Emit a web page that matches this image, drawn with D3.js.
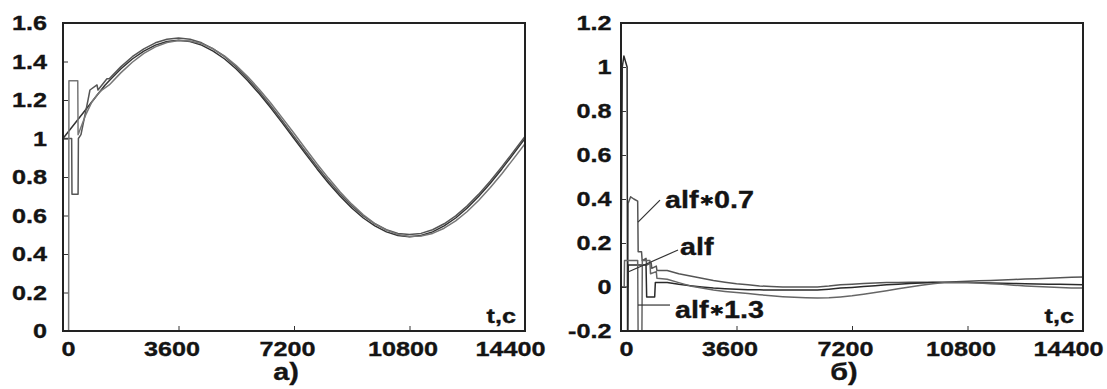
<!DOCTYPE html>
<html>
<head>
<meta charset="utf-8">
<script src="https://cdn.jsdelivr.net/npm/d3@7"></script>
<style>
  html, body { margin: 0; padding: 0; background: #fff; }
  svg { display: block; }
  text { font-family: "Liberation Sans", Arial, sans-serif; font-weight: bold; fill: #141414; stroke: #141414; stroke-width: 0.35px; }
</style>
</head>
<body>
<svg id="chart" width="1107" height="389"></svg>
<script>
// axis ticks
const timeTicks = [0, 3600, 7200, 10800, 14400];
const leftTicksY = [0, 0.2, 0.4, 0.6, 0.8, 1, 1.2, 1.4, 1.6];
const rightTicksY = [-0.2, 0, 0.2, 0.4, 0.6, 0.8, 1, 1.2];
const panelNames = ['а)', 'б)'];
const axisName = 't,c';

// panel a) : [t, value]
const leftA = [[0,1.0],[1300,1.275],[1440,1.30],[1800,1.361],[2160,1.413],[2520,1.454],[2880,1.485],[3240,1.504],[3600,1.51],[3960,1.504],[4320,1.485],[4680,1.454],[5040,1.413],[5400,1.361],[5760,1.30],[6120,1.232],[6480,1.158],[6840,1.08],[7200,1.0],[7560,0.92],[7920,0.842],[8280,0.768],[8640,0.70],[9000,0.639],[9360,0.587],[9720,0.546],[10080,0.515],[10440,0.496],[10800,0.49],[11160,0.496],[11520,0.515],[11880,0.546],[12240,0.587],[12600,0.639],[12960,0.70],[13320,0.768],[13680,0.842],[14040,0.92],[14400,1.0]];
const leftB = [[0,1.0],[270,1.0],[280,0.71],[470,0.71],[480,1.0],[560,1.02],[780,1.2],[840,1.252],[1060,1.278],[1090,1.252],[1370,1.31],[1440,1.31],[1800,1.372],[2160,1.425],[2520,1.466],[2880,1.497],[3240,1.516],[3600,1.522],[3960,1.516],[4320,1.497],[4680,1.466],[5040,1.425],[5400,1.372],[5760,1.311],[6120,1.243],[6480,1.169],[6840,1.091],[7200,1.011],[7560,0.931],[7920,0.853],[8280,0.779],[8640,0.711],[9000,0.650],[9360,0.598],[9720,0.557],[10080,0.526],[10440,0.507],[10800,0.501],[11160,0.507],[11520,0.526],[11880,0.557],[12240,0.598],[12600,0.650],[12960,0.711],[13320,0.779],[13680,0.853],[14040,0.931],[14400,1.011]];
const leftC = [[0,0],[175,0],[185,1.3],[460,1.3],[470,1.02],[700,1.12],[900,1.19],[1080,1.23],[1200,1.25],[1440,1.278],[1800,1.341],[2160,1.396],[2520,1.442],[2880,1.476],[3240,1.499],[3600,1.509],[3960,1.507],[4320,1.493],[4680,1.466],[5040,1.428],[5400,1.379],[5760,1.321],[6120,1.255],[6480,1.183],[6840,1.106],[7200,1.027],[7560,0.947],[7920,0.868],[8280,0.793],[8640,0.722],[9000,0.659],[9360,0.604],[9720,0.558],[10080,0.524],[10440,0.501],[10800,0.491],[11160,0.493],[11520,0.507],[11880,0.534],[12240,0.572],[12600,0.621],[12960,0.679],[13320,0.745],[13680,0.817],[14040,0.894],[14400,0.973]];

// panel б) : [t, value]
const alf07 = [[0,0],[210,0],[220,0.38],[300,0.41],[400,0.40],[520,0.39],[535,0.16],[640,0.16],[660,0.12],[780,0.13],[800,0.10],[940,0.11],[960,0.085],[1100,0.095],[1120,0.075],[1440,0.075],[1800,0.06],[2160,0.05],[2520,0.04],[2880,0.03],[3240,0.022],[3600,0.015],[3960,0.01],[4320,0.005],[4680,0.002],[5040,0],[5400,0],[5760,0],[6120,0],[6480,0.004],[6840,0.01],[7200,0.013],[7560,0.016],[7920,0.018],[8280,0.02],[8640,0.021],[9000,0.022],[9360,0.022],[9720,0.022],[10080,0.022],[10440,0.024],[10800,0.026],[11160,0.028],[11520,0.03],[11880,0.032],[12240,0.034],[12600,0.036],[12960,0.038],[13320,0.04],[13680,0.042],[14040,0.044],[14400,0.046]];
const alf10 = [[0,0],[40,1.0],[90,1.05],[190,1.0],[205,-0.25],[215,-0.25],[225,0.1],[780,0.1],[800,-0.045],[1050,-0.045],[1070,0.02],[1440,0.02],[1800,0.012],[2160,0.006],[2520,0],[2880,-0.005],[3240,-0.008],[3600,-0.01],[3960,-0.012],[4320,-0.013],[4680,-0.014],[5040,-0.014],[5400,-0.014],[5760,-0.014],[6120,-0.014],[6480,-0.01],[6840,-0.005],[7200,-0.002],[7560,0.002],[7920,0.006],[8280,0.01],[8640,0.013],[9000,0.016],[9360,0.018],[9720,0.02],[10080,0.02],[10440,0.02],[10800,0.02],[11160,0.019],[11520,0.018],[11880,0.017],[12240,0.016],[12600,0.015],[12960,0.014],[13320,0.013],[13680,0.012],[14040,0.011],[14400,0.01]];
const alf13 = [[0,0],[100,0],[110,0.12],[520,0.12],[535,-0.25],[650,-0.25],[665,0.12],[900,0.12],[920,0.06],[1100,0.07],[1120,0.04],[1440,0.035],[1800,0.02],[2160,0.005],[2520,-0.005],[2880,-0.014],[3240,-0.02],[3600,-0.025],[3960,-0.03],[4320,-0.035],[4680,-0.04],[5040,-0.044],[5400,-0.047],[5760,-0.049],[6120,-0.05],[6480,-0.049],[6840,-0.045],[7200,-0.04],[7560,-0.033],[7920,-0.025],[8280,-0.017],[8640,-0.008],[9000,0],[9360,0.008],[9720,0.015],[10080,0.02],[10440,0.021],[10800,0.02],[11160,0.018],[11520,0.015],[11880,0.012],[12240,0.008],[12600,0.005],[12960,0.002],[13320,0],[13680,-0.002],[14040,-0.004],[14400,-0.005]];

// curve labels in panel б): [name, factor], text anchor [t, v], pointer from/to [t, v]
const noteTexts = [['alf', '0.7'], ['alf', null], ['alf', '1.3']];
const noteAt = [[1372, 0.359], [1839, 0.145], [1683, -0.141]];
const notePointers = [[[1216, 0.395], [530, 0.295]], [[1777, 0.168], [218, 0.068]], [[530, -0.082], [1527, -0.082]]];

const svg = d3.select('#chart');
const stretch = 1.2;   // the source lettering is horizontally wide
const fmt = v => String(+v.toFixed(1));

function drawPanel(cfg, idx) {
  const x = d3.scaleLinear().domain([0, 14400]).range([cfg.left, cfg.right]);
  const y = d3.scaleLinear().domain(cfg.yDomain).range([331, 23]);
  const clipId = 'clip' + idx;

  svg.append('clipPath').attr('id', clipId)
    .append('rect')
    .attr('x', cfg.left).attr('y', 23)
    .attr('width', cfg.right - cfg.left).attr('height', 308);

  const line = d3.line().x(d => x(d[0])).y(d => y(d[1]));
  const g = svg.append('g').attr('clip-path', `url(#${clipId})`);
  cfg.series.forEach((s, i) => {
    g.append('path')
      .datum(s)
      .attr('fill', 'none')
      .attr('stroke', cfg.colors[i])
      .attr('stroke-width', 1.5)
      .attr('stroke-linejoin', 'round')
      .attr('d', line);
  });

  // y axis, ticks pointing inwards
  const ya = svg.append('g')
    .attr('transform', `translate(${cfg.left},0)`)
    .call(d3.axisLeft(y).tickValues(cfg.yTicks).tickFormat(fmt)
      .tickSizeInner(-5).tickSizeOuter(0).tickPadding(cfg.yPad));
  ya.select('.domain').remove();
  ya.selectAll('line').attr('stroke', '#333');
  ya.selectAll('text')
    .attr('x', -cfg.yPad / stretch)
    .attr('transform', `scale(${stretch},1)`)
    .style('font-size', '21px');

  // x axis
  const xa = svg.append('g')
    .attr('transform', 'translate(0,331)')
    .call(d3.axisBottom(x).tickValues(timeTicks).tickFormat(d => String(d))
      .tickSizeInner(-5).tickSizeOuter(0).tickPadding(10));
  xa.select('.domain').remove();
  xa.selectAll('line').attr('stroke', '#333');
  xa.selectAll('text')
    .attr('x', (d, i) => (i === 0 ? 5 : i === timeTicks.length - 1 ? -15 : -7) / stretch)
    .attr('transform', `scale(${stretch},1)`)
    .style('font-size', '21px');

  // frame
  svg.append('rect')
    .attr('x', cfg.left).attr('y', 23)
    .attr('width', cfg.right - cfg.left).attr('height', 308)
    .attr('fill', 'none')
    .attr('stroke', '#222')
    .attr('stroke-width', 2);

  svg.append('text')
    .attr('transform', `translate(${cfg.right - 9},323) scale(${stretch},1)`)
    .attr('text-anchor', 'end')
    .style('font-size', '21px')
    .text(axisName);

  svg.append('text')
    .attr('transform', `translate(${(cfg.left + cfg.right) / 2 - 8},380) scale(${stretch},1)`)
    .attr('text-anchor', 'middle')
    .style('font-size', '24px')
    .text(panelNames[idx]);

  return { x, y };
}

drawPanel({
  left: 63, right: 525, yDomain: [0, 1.6], yTicks: leftTicksY, yPad: 16,
  series: [leftA, leftB, leftC], colors: ['#333', '#555', '#777']
}, 0);

const sc = drawPanel({
  left: 621, right: 1083, yDomain: [-0.2, 1.2], yTicks: rightTicksY, yPad: 9.5,
  series: [alf07, alf10, alf13], colors: ['#555', '#2a2a2a', '#666']
}, 1);

notePointers.forEach(p => {
  svg.append('line')
    .attr('x1', sc.x(p[0][0])).attr('y1', sc.y(p[0][1]))
    .attr('x2', sc.x(p[1][0])).attr('y2', sc.y(p[1][1]))
    .attr('stroke', '#333').attr('stroke-width', 1.2);
});
noteTexts.forEach((t, i) => {
  const txt = svg.append('text')
    .attr('transform', `translate(${sc.x(noteAt[i][0])},${sc.y(noteAt[i][1])}) scale(1.25,1)`)
    .style('font-size', '23px');
  txt.append('tspan').text(t[0]);
  if (t[1]) {
    txt.append('tspan').style('font-size', '15px').attr('dy', -3).text('∗');
    txt.append('tspan').attr('dy', 3).text(t[1]);
  }
});
</script>
</body>
</html>
